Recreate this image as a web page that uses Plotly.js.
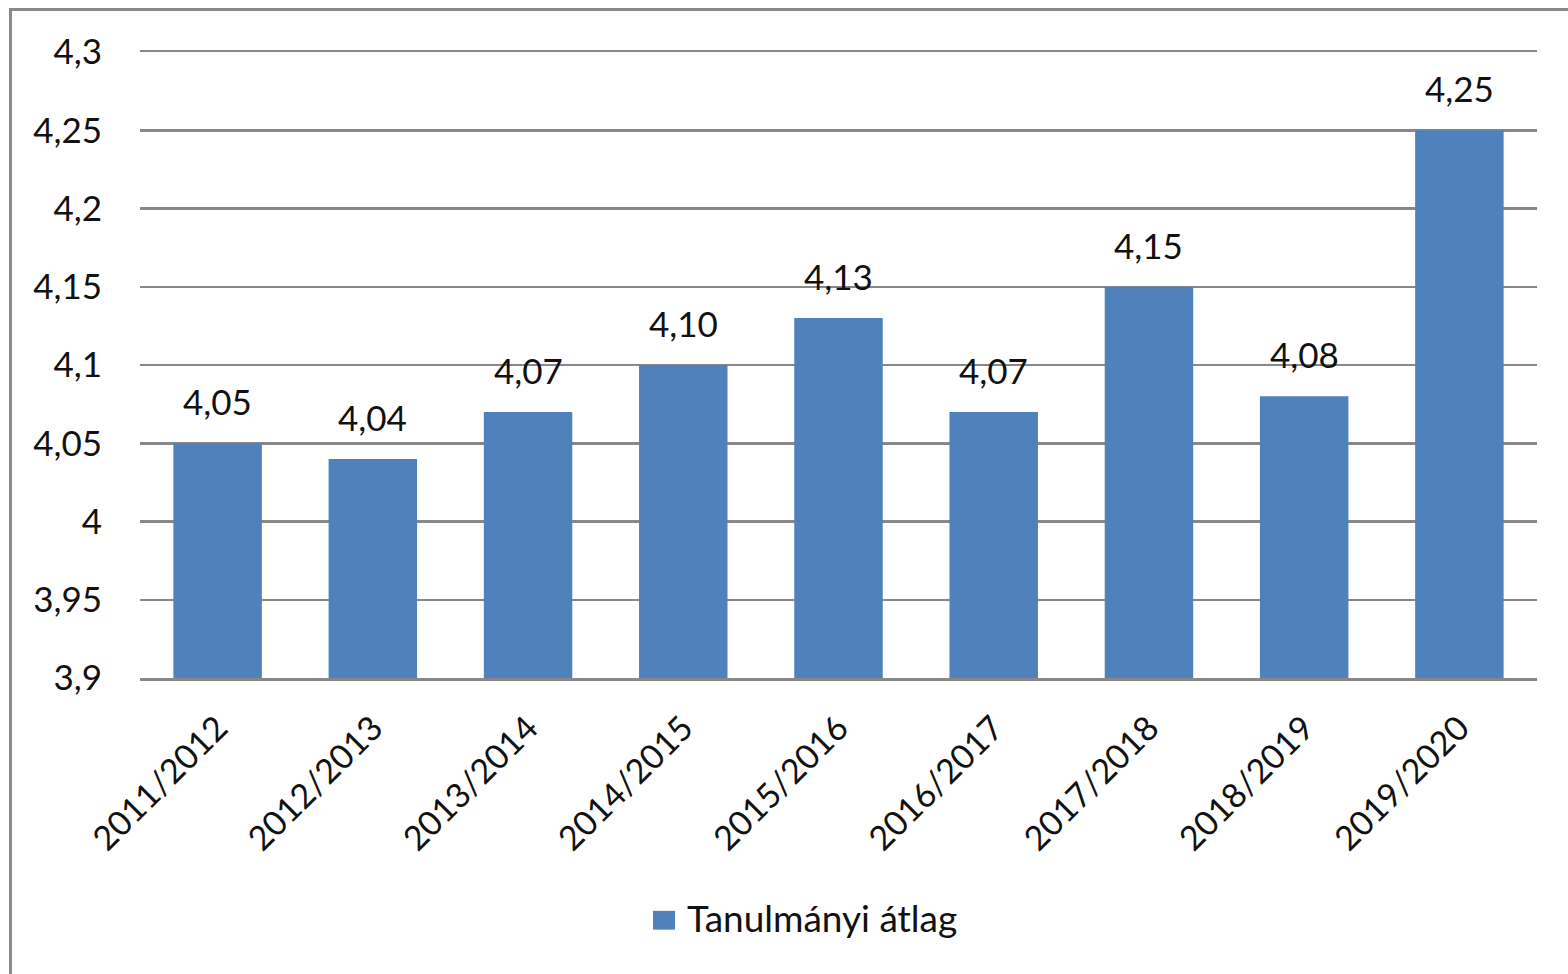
<!DOCTYPE html>
<html>
<head>
<meta charset="utf-8">
<script src="https://cdn.plot.ly/plotly-3.0.1.min.js"></script>
<style>
  html, body { margin: 0; padding: 0; background: #fff; }
  #wrap { position: relative; width: 1568px; height: 974px; overflow: hidden; }
  #chart { position: absolute; left: 0; top: 0; width: 1568px; height: 974px; }
  #frame { position: absolute; left: 9px; top: 8px; width: 1600px; height: 1000px;
           border: 3px solid #898989; pointer-events: none; box-sizing: border-box; }
</style>
</head>
<body>
<div id="wrap">
  <div id="chart"></div>
  <div id="frame"></div>
</div>
<script>
const categories = ['2011/2012','2012/2013','2013/2014','2014/2015','2015/2016','2016/2017','2017/2018','2018/2019','2019/2020'];
const values = [4.05, 4.04, 4.07, 4.10, 4.13, 4.07, 4.15, 4.08, 4.25];
const seriesName = 'Tanulmányi átlag';
const yTickVals = [3.9, 3.95, 4.0, 4.05, 4.1, 4.15, 4.2, 4.25, 4.3];
const yTickText = ['3,9','3,95','4','4,05','4,1','4,15','4,2','4,25','4,3'];

const FONT = 'Lato, "Open Sans", sans-serif';
const barColor = '#4F81BD';
const gridColor = '#888888';
const textColor = '#111111';
const FS = 35;

const trace = {
  type: 'bar',
  x: categories,
  y: values,
  name: seriesName,
  marker: { color: barColor },
  showlegend: false,
  hoverinfo: 'x+y'
};

const annotations = categories.map((c, i) => ({
  x: c, y: values[i], xref: 'x', yref: 'y',
  text: values[i].toFixed(2).replace('.', ','),
  showarrow: false, yanchor: 'bottom', yshift: 19,
  font: { family: FONT, size: FS, color: textColor }
}));

// manual legend (larger swatch, as in the reference)
annotations.push({
  x: 0.390, y: -0.382, xref: 'paper', yref: 'paper',
  xanchor: 'left', yanchor: 'middle', showarrow: false,
  text: seriesName,
  font: { family: FONT, size: 37, color: textColor }
});
const shapes = [{
  type: 'rect', xref: 'paper', yref: 'paper',
  x0: 0.3672, x1: 0.3830, y0: -0.372, y1: -0.402,
  fillcolor: barColor, line: { width: 0 }
}];

const layout = {
  width: 1568, height: 974,
  margin: { l: 140, r: 31, t: 52, b: 296 },
  paper_bgcolor: '#ffffff', plot_bgcolor: '#ffffff',
  separators: ',.',
  font: { family: FONT, size: FS, color: textColor },
  bargap: 0.43,
  showlegend: false,
  xaxis: {
    type: 'category',
    tickangle: -45,
    tickfont: { family: FONT, size: 34, color: textColor },
    showline: true, mirror: true, linecolor: gridColor, linewidth: 2.5,
    ticks: '', showgrid: false,
    ticklabelstandoff: 14,
    automargin: false
  },
  yaxis: {
    range: [3.9, 4.3],
    tickvals: yTickVals,
    ticktext: yTickText,
    tickfont: { family: FONT, size: FS, color: textColor },
    showgrid: true, gridcolor: gridColor, gridwidth: 2.5,
    zeroline: false, showline: false,
    ticks: 'outside', ticklen: 30, tickcolor: 'rgba(0,0,0,0)',
    automargin: false
  },
  annotations: annotations,
  shapes: shapes
};

Plotly.newPlot('chart', [trace], layout, { displayModeBar: false, staticPlot: true });
</script>
</body>
</html>
